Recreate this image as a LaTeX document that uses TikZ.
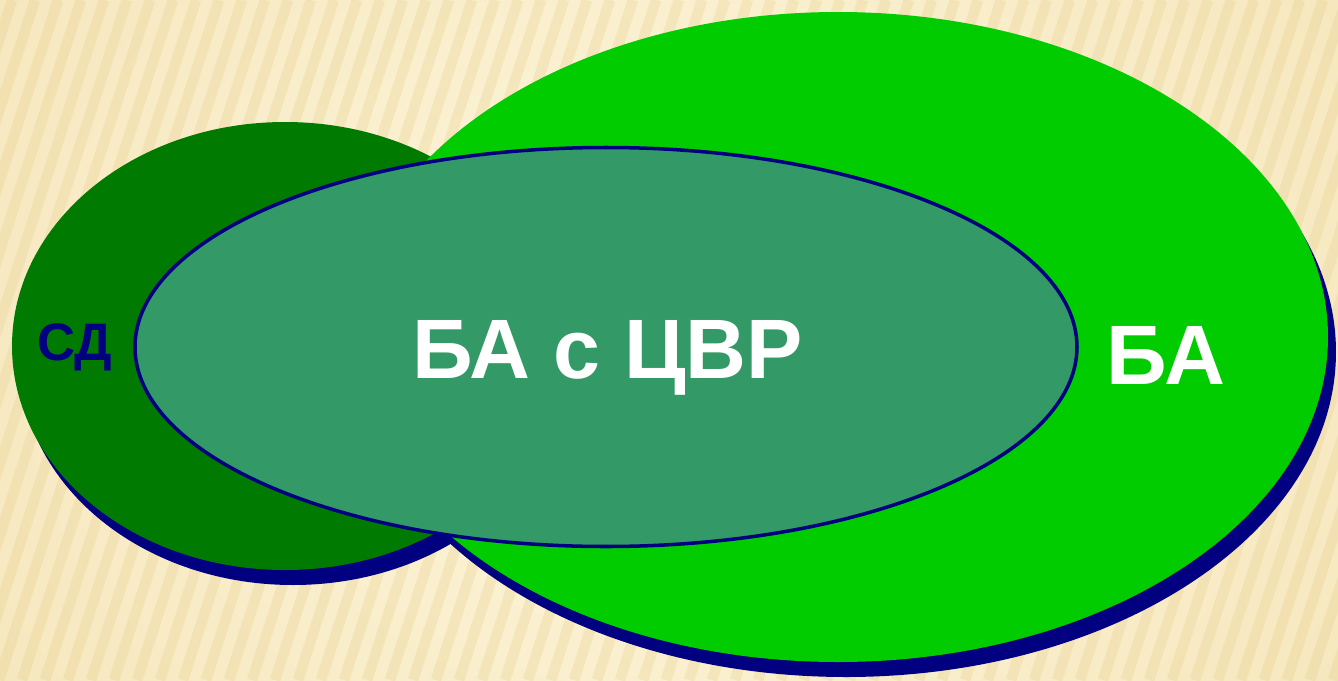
\documentclass[tikz,border=0pt]{standalone}
\usepackage{fontspec}
\setmainfont{Liberation Sans}
\usetikzlibrary{shapes.geometric,shadows}
\definecolor{cream}{HTML}{FEF8E0}
\definecolor{sand}{HTML}{F0DBA4}
\definecolor{stripe}{HTML}{E8CE8C}
\definecolor{darkleaf}{HTML}{007A00}
\definecolor{brightleaf}{HTML}{00CC00}
\definecolor{seagreen}{HTML}{339966}
\definecolor{navyblue}{HTML}{000080}

\begin{document}
\begin{tikzpicture}[
   blob/.style={ellipse,inner sep=0pt,
     general shadow={fill=navyblue,shadow xshift=.08cm,shadow yshift=-.15cm}},
   setname/.style={font=\bfseries\fontsize{24}{28}\selectfont,text=white,anchor=base}]
  \useasboundingbox (0,0) rectangle (13.38,6.8);
  % background
  \begin{scope}
    \clip (0,0) rectangle (13.38,6.8);
    \shade[inner color=cream,outer color=sand] (-7,-8) rectangle (20.38,14.8);
    \foreach \x in {-3,-2.77,...,14}
      \draw[stripe,opacity=.3,line width=3pt] (\x,0) -- ++(2.2,6.8);
  \end{scope}
  \node[blob,fill=darkleaf,minimum width=5.46cm,minimum height=4.48cm] (sd) at (2.85,3.34) {};
  \node[blob,fill=brightleaf,minimum width=9.8cm,minimum height=6.5cm] (ba) at (8.38,3.43) {};
  \node[ellipse,inner sep=0pt,draw=navyblue,line width=1pt,fill=seagreen,
     minimum width=9.42cm,minimum height=3.99cm] (bacvr) at (6.06,3.33) {};
  \node[setname,text=navyblue,font=\bfseries\fontsize{15}{18}\selectfont] (sdname) at (0.75,3.20) {СД};
  \node[setname] (bacvrname) at (6.075,3.02) {БА с ЦВР};
  \node[setname] (baname) at (11.66,2.96) {БА};
\end{tikzpicture}
\end{document}
